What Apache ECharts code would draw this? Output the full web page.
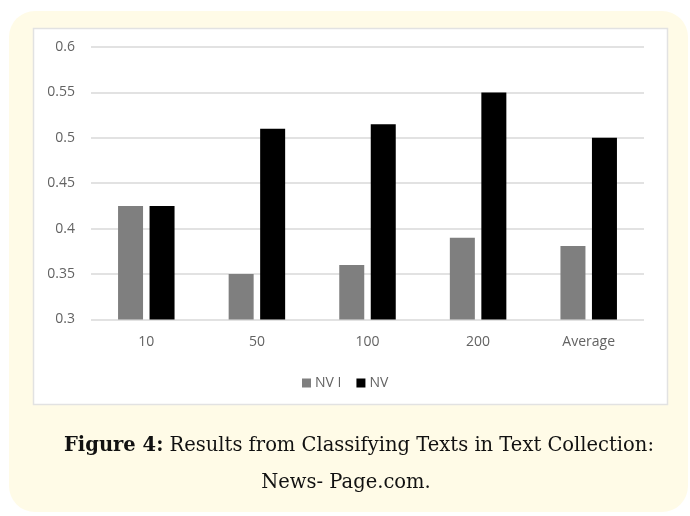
<!DOCTYPE html>
<html>
<head>
<meta charset="utf-8">
<script src="https://cdn.jsdelivr.net/npm/echarts@6/dist/echarts.min.js"></script>
<style>
  html, body { margin: 0; padding: 0; background: #fff; }
  #main { width: 690px; height: 516px; }
</style>
</head>
<body>
<div id="main"></div>
<script>
// data
var categories = ["10", "50", "100", "200", "Average"];
var nvI = [0.425, 0.35, 0.36, 0.39, 0.381];
var nv = [0.425, 0.51, 0.515, 0.55, 0.5];
var yTicks = [0.3, 0.35, 0.4, 0.45, 0.5, 0.55, 0.6];

var myChart = echarts.init(document.getElementById("main"));

var labelColor = "#636363";
var captionFont = "DejaVu Serif";

var option = {
  animation: false,
  backgroundColor: "#fff",
  graphic: [
    // yellow frame
    {
      type: "rect",
      z: -10,
      shape: { x: 9, y: 11, width: 679, height: 501, r: 26 },
      style: { fill: "#fffbe7" }
    },
    // white panel of the chart
    {
      type: "rect",
      z: -9,
      shape: { x: 33.5, y: 28.5, width: 634, height: 376 },
      style: { fill: "#fff", stroke: "#e2e2e2", lineWidth: 1.5 }
    },
    // caption
    {
      type: "text",
      x: 359,
      y: 456,
      style: {
        text: "{b|Figure 4:} Results from Classifying Texts in Text Collection:",
        rich: {
          b: { fontWeight: "bold", fontFamily: captionFont, fontSize: 19.5, fill: "#111" }
        },
        fontFamily: captionFont,
        fontSize: 19.5,
        fill: "#111",
        align: "center",
        verticalAlign: "bottom"
      }
    },
    {
      type: "text",
      x: 346,
      y: 493,
      style: {
        text: "News- Page.com.",
        fontFamily: captionFont,
        fontSize: 19.5,
        fill: "#111",
        align: "center",
        verticalAlign: "bottom"
      }
    }
  ],
  legend: {
    data: ["NV I", "NV"],
    top: 371,
    left: 297,
    itemWidth: 9,
    itemHeight: 9,
    itemGap: 15,
    icon: "rect",
    textStyle: {
      color: labelColor,
      fontSize: 14,
      fontFamily: "Open Sans",
      padding: [0, 0, 0, -1]
    }
  },
  grid: {
    left: 91,
    right: 46,
    top: 47,
    bottom: 196.5
  },
  xAxis: {
    type: "category",
    data: categories,
    axisLine: { show: false },
    axisTick: { show: false },
    axisLabel: {
      color: labelColor,
      fontSize: 14,
      fontFamily: "Open Sans",
      margin: 16
    }
  },
  yAxis: {
    type: "value",
    min: yTicks[0],
    max: yTicks[yTicks.length - 1],
    interval: 0.05,
    axisLine: { show: false },
    axisTick: { show: false },
    axisLabel: {
      color: labelColor,
      fontSize: 14,
      fontFamily: "Open Sans",
      margin: 16,
      formatter: function (v) {
        return String(Math.round(v * 100) / 100);
      }
    },
    splitLine: {
      lineStyle: { color: "#d9d9d9", width: 1.5 }
    }
  },
  series: [
    {
      name: "NV I",
      type: "bar",
      data: nvI,
      barWidth: 25,
      barGap: "26%",
      itemStyle: { color: "#7f7f7f" }
    },
    {
      name: "NV",
      type: "bar",
      data: nv,
      barWidth: 25,
      itemStyle: { color: "#000000" }
    }
  ]
};

myChart.setOption(option);
</script>
</body>
</html>
